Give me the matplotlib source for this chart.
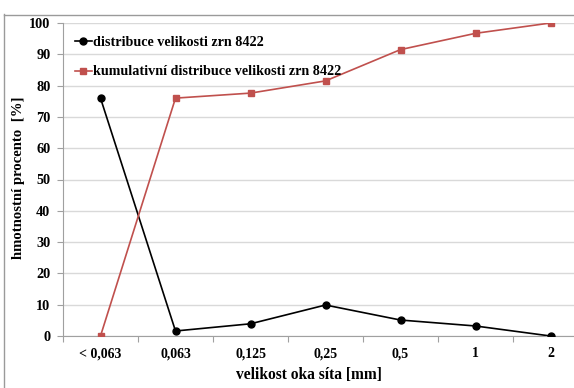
import matplotlib
matplotlib.use("Agg")
import matplotlib.pyplot as plt
from matplotlib.lines import Line2D

categories = ["< 0,063", "0,063", "0,125", "0,25", "0,5", "1", "2"]
distribution = [76.0, 1.6, 3.9, 9.9, 5.1, 3.2, 0.0]
cumulative = [0.0, 76.0, 77.6, 81.5, 91.5, 96.7, 100.0]
yticks = [0, 10, 20, 30, 40, 50, 60, 70, 80, 90, 100]

plt.rcParams["font.family"] = ["Liberation Serif", "DejaVu Serif"]
plt.rcParams["font.weight"] = "bold"

W, H = 574, 388
fig = plt.figure(figsize=(W / 100, H / 100), dpi=100)
fig.patch.set_facecolor("white")

# plot area in pixels: x 63..588, y 23..336 (from top)
ax = fig.add_axes([63 / W, (H - 336) / H, (588 - 63) / W, (336 - 23) / H])

x = list(range(len(categories)))
ax.plot(x, distribution, color="black", lw=1.2, marker="o", ms=5,
        label="distribuce velikosti zrn 8422", zorder=3)
ax.plot(x, cumulative, color="#c0504d", lw=1.2, marker="s", ms=4.6,
        label="kumulativní distribuce velikosti zrn 8422", zorder=3)

ax.set_xlim(-0.5, len(categories) - 0.5)
ax.set_ylim(0, 100)
ax.set_yticks(yticks)
ax.set_yticklabels([str(v) for v in yticks], fontsize=10.3, fontweight="bold")
ax.set_xticks(x)
ax.set_xticklabels(categories, fontsize=10, fontweight="bold")
ax.set_xticks([i - 0.5 for i in range(len(categories) + 1)], minor=True)
ax.tick_params(axis="x", which="major", length=0, pad=8)
ax.tick_params(axis="x", which="minor", length=4, color="#a0a0a0", width=0.8)
ax.tick_params(axis="y", which="major", length=4, color="#a0a0a0", width=0.8, pad=5)

ax.grid(axis="y", color="#d9d9d9", lw=1.0)
ax.set_axisbelow(True)
for s in ["top", "right"]:
    ax.spines[s].set_visible(False)
for s in ["left", "bottom"]:
    ax.spines[s].set_color("#a0a0a0")
    ax.spines[s].set_linewidth(0.8)

leg = ax.legend(loc="upper left", bbox_to_anchor=(0.006, 0.985), frameon=False,
                fontsize=10.2, handlelength=1.2, handletextpad=0.12,
                labelspacing=1.15, borderaxespad=0.2)
for t in leg.get_texts():
    t.set_fontweight("bold")

fig.text(19 / W, 1 - 178 / H, "hmotnostní procento  [%]", rotation=90,
         ha="center", va="center", fontsize=10.6, fontweight="bold")
fig.text(309 / W, 1 - 375 / H, "velikost oka síta [mm]",
         ha="center", va="center", fontsize=11.2, fontweight="bold")

# outer chart frame
fig.add_artist(Line2D([3.5 / W, 3.5 / W], [0, 1 - 14 / H], color="#9a9a9a",
                      lw=1.0, transform=fig.transFigure))
fig.add_artist(Line2D([3.5 / W, 1], [1 - 14.5 / H, 1 - 14.5 / H], color="#9a9a9a",
                      lw=1.0, transform=fig.transFigure))

fig.savefig("out.png", dpi=100)
